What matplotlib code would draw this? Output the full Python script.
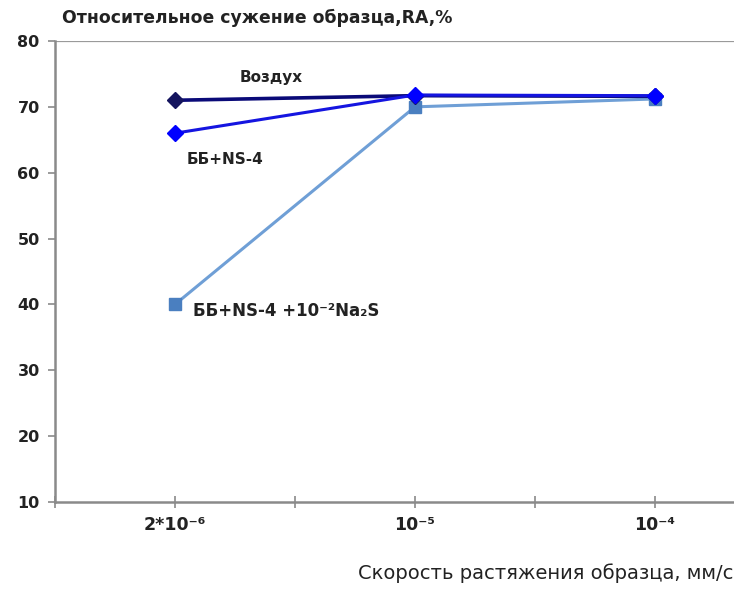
import matplotlib
matplotlib.use("Agg")
import matplotlib.pyplot as plt

plt.rcParams['font.family'] = ['DejaVu Sans']

categories = ["2*10⁻⁶", "10⁻⁵", "10⁻⁴"]
air = [71.0, 71.7, 71.6]
bb_ns4 = [66.0, 71.8, 71.7]
bb_ns4_na2s = [40.0, 70.0, 71.2]
y_ticks = [10, 20, 30, 40, 50, 60, 70, 80]

fig = plt.figure(figsize=(7.34, 6.06), dpi=100)
ax = fig.add_axes([55/734, (606-502)/606, 1 - 55/734 + 0.2, (502-41)/606])

x = list(range(len(categories)))
ax.plot(x, bb_ns4_na2s, color='#6f9fd6', lw=2.2, marker='s', ms=8,
        mfc='#4a7fc0', mec='#4a7fc0', zorder=3)
ax.plot(x, air, color='#0a0a78', lw=2.6, marker='D', ms=8.5,
        mfc='#14145e', mec='#14145e', zorder=4)
ax.plot(x, bb_ns4, color='#1515e0', lw=2.2, marker='D', ms=8.5,
        mfc='#0000ff', mec='#0000ff', zorder=5)

ax.set_xlim(-0.5, -0.5 + (734 - 55 + 0.2 * 734) / 240)
ax.set_ylim(10, 80)
ax.set_yticks(y_ticks)
ax.set_yticklabels([str(v) for v in y_ticks], fontsize=11.5, fontweight='bold', color='#222222')
ax.set_xticks(x)
ax.set_xticklabels(categories, fontsize=12.5, fontweight='bold', color='#222222')
ax.set_xticks([-0.5, 0.5, 1.5, 2.5], minor=True)

for s in ['top', 'right']:
    ax.spines[s].set_visible(False)
for s in ['left', 'bottom']:
    ax.spines[s].set_color('#8a8a8a')
    ax.spines[s].set_linewidth(1.8)
ax.axhline(80, color='#9a9a9a', lw=1.6, zorder=1)

ax.tick_params(axis='y', which='major', direction='out', length=5, width=1.2, color='#8a8a8a', pad=6)
ax.tick_params(axis='x', which='both', direction='inout', length=8, width=1.2, color='#8a8a8a', pad=6)

fig.text(62/734, 1 - 18/606, "Относительное сужение образца,RA,%", fontsize=12.4,
         fontweight='bold', color='#222222', va='center', ha='left')
fig.text(733/734, 1 - 573/606, "Скорость растяжения образца, мм/с", fontsize=14,
         color='#222222', va='center', ha='right')

ax.annotate("Воздух", xy=(0, air[0]), xytext=(65, 23), textcoords='offset pixels',
            fontsize=11, fontweight='bold', color='#222222', va='center', ha='left')
ax.annotate("ББ+NS-4", xy=(0, bb_ns4[0]), xytext=(12, -26), textcoords='offset pixels',
            fontsize=11, fontweight='bold', color='#222222', va='center', ha='left')
ax.annotate("ББ+NS-4 +10⁻²Na₂S", xy=(0, bb_ns4_na2s[0]), xytext=(18, -7),
            textcoords='offset pixels', fontsize=12, fontweight='bold', color='#222222',
            va='center', ha='left')

fig.savefig("out.png", dpi=100)
